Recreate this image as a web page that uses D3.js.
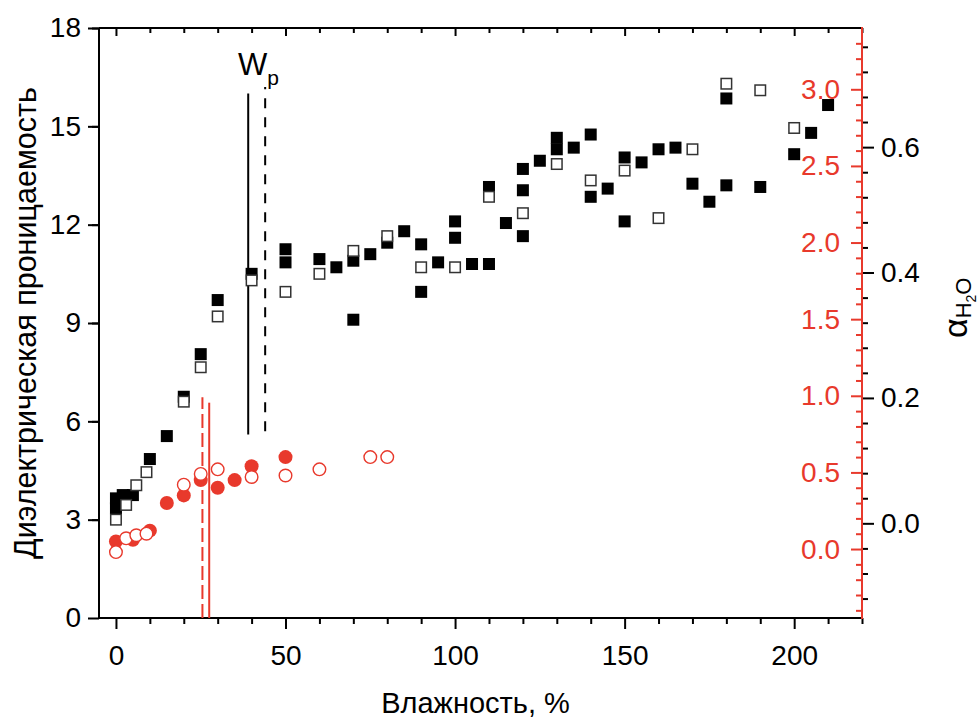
<!DOCTYPE html>
<html><head><meta charset="utf-8">
<script src="https://cdn.jsdelivr.net/npm/d3@7"></script>
<style>
body{margin:0;background:#fff;}
svg{font-family:"Liberation Sans",Arial,Helvetica,sans-serif;}
</style></head><body>
<svg id="c" width="978" height="720"></svg>
<script>
// ---- data (x: moisture %, y: permittivity on left axis) ----
const permFilled = [[0,3.65],[0,3.35],[2,3.75],[5,3.75],[10,4.85],[15,5.55],[20,6.75],[25,8.05],[30,9.7],[40,10.5],[50,11.25],[50,10.85],[60,10.95],[65,10.7],[70,10.9],[70,9.1],[75,11.1],[80,11.45],[85,11.8],[90,11.4],[90,9.95],[95,10.85],[100,12.1],[100,11.6],[105,10.8],[110,10.8],[110,13.15],[115,12.05],[120,13.7],[120,13.05],[120,11.65],[125,13.95],[130,14.65],[130,14.3],[135,14.35],[140,14.75],[140,12.85],[145,13.1],[150,14.05],[150,12.1],[155,13.9],[160,14.3],[165,14.35],[170,13.25],[175,12.7],[180,13.2],[180,15.85],[190,13.15],[200,14.15],[205,14.8],[210,15.65]];
const permOpen = [[0,3.0],[3,3.45],[6,4.05],[9,4.45],[20,6.6],[25,7.65],[30,9.2],[40,10.3],[50,9.95],[60,10.5],[70,11.2],[80,11.65],[90,10.7],[100,10.7],[110,12.85],[120,12.35],[130,13.85],[140,13.35],[150,13.65],[160,12.2],[170,14.3],[180,16.3],[190,16.1],[200,14.95]];
// red circles: values on the red axis
const redFilled = [[0,0.05],[5,0.06],[10,0.12],[15,0.3],[20,0.35],[25,0.45],[30,0.40],[35,0.45],[40,0.54],[50,0.60]];
const redOpen = [[0,-0.02],[3,0.07],[6,0.09],[9,0.10],[20,0.42],[25,0.49],[30,0.52],[40,0.47],[50,0.48],[60,0.52],[75,0.60],[80,0.60]];
// vertical marker lines
const wpLines = [[39,5.6,16.0,false],[44,5.7,16.2,true]];      // x, yBottom, yTop (left axis), dashed
const redLines = [[25.5,0.99,true],[27.5,0.955,false]];          // x, top (red axis), dashed
// axes
const xTicks = [0,50,100,150,200];
const leftTicks = [0,3,6,9,12,15,18];
const redTicks = ["0.0","0.5","1.0","1.5","2.0","2.5","3.0"];
const alphaTicks = ["0.0","0.2","0.4","0.6"];

const RED = "#e8392c";
const svg = d3.select("#c");
const L=99, R=862, T=28, B=618;
const x = d3.scaleLinear().domain([-5,220]).range([L,R]);
const yL = d3.scaleLinear().domain([0,18]).range([B,T]);
const yR = d3.scaleLinear().domain([-0.45,3.4]).range([B,T]);
const yA = d3.scaleLinear().domain([-0.151,0.79]).range([B,T]);
const FS = 28;

function style(g,color,fs){
  g.select(".domain").remove();
  g.selectAll("line").attr("stroke",color).attr("stroke-width",2);
  g.selectAll("text").attr("fill",color).style("font-size",fs+"px").style("font-family","'Liberation Sans',Arial,sans-serif");
}
const rng=(a,b,s)=>d3.range(Math.round(a/s),Math.round(b/s)+1).map(i=>+(i*s).toFixed(4));

// bottom axis
let g=svg.append("g").attr("transform",`translate(0,${B})`)
 .call(d3.axisBottom(x).tickValues(rng(0,220,10).filter(v=>v%50!==0)).tickSize(6).tickFormat(""));
style(g,"#000",FS);
g=svg.append("g").attr("transform",`translate(0,${B})`)
 .call(d3.axisBottom(x).tickValues(xTicks).tickSize(11).tickPadding(16).tickFormat(d3.format("d")));
style(g,"#000",FS);
// top axis (inward)
g=svg.append("g").attr("transform",`translate(0,${T})`)
 .call(d3.axisBottom(x).tickValues(rng(0,220,10).filter(v=>v%50!==0)).tickSize(5).tickFormat(""));
style(g,"#000",FS);
g=svg.append("g").attr("transform",`translate(0,${T})`)
 .call(d3.axisBottom(x).tickValues(xTicks).tickSize(8).tickFormat(""));
style(g,"#000",FS);
// left axis
g=svg.append("g").attr("transform",`translate(${L},0)`)
 .call(d3.axisLeft(yL).tickValues(rng(1.5,16.5,3)).tickSize(7).tickFormat(""));
style(g,"#000",FS);
g=svg.append("g").attr("transform",`translate(${L},0)`)
 .call(d3.axisLeft(yL).tickValues(leftTicks).tickSize(11).tickPadding(7).tickFormat(d3.format("d")));
style(g,"#000",FS);
// red axis (inward ticks, labels inside)
g=svg.append("g").attr("transform",`translate(${R},0)`)
 .call(d3.axisLeft(yR).tickValues(rng(-0.4,3.3,0.1).filter(v=>Math.abs(v*2-Math.round(v*2))>1e-6)).tickSize(6).tickFormat(""));
style(g,RED,FS);
g=svg.append("g").attr("transform",`translate(${R},0)`)
 .call(d3.axisLeft(yR).tickValues(redTicks.map(Number)).tickSize(11).tickPadding(11).tickFormat(d3.format(".1f")));
style(g,RED,FS);
// alpha axis (outward)
g=svg.append("g").attr("transform",`translate(${R},0)`)
 .call(d3.axisRight(yA).tickValues(rng(-0.12,0.76,0.04).filter(v=>Math.abs(v*5-Math.round(v*5))>1e-6)).tickSize(6).tickFormat(""));
style(g,"#000",FS);
g=svg.append("g").attr("transform",`translate(${R},0)`)
 .call(d3.axisRight(yA).tickValues(alphaTicks.map(Number)).tickSize(12).tickPadding(7).tickFormat(d3.format(".1f")));
style(g,"#000",FS);

// frame
svg.append("line").attr("x1",L).attr("x2",R).attr("y1",T).attr("y2",T).attr("stroke","#000").attr("stroke-width",2);
svg.append("line").attr("x1",L).attr("x2",R).attr("y1",B).attr("y2",B).attr("stroke","#000").attr("stroke-width",2);
svg.append("line").attr("x1",L).attr("x2",L).attr("y1",T).attr("y2",B).attr("stroke","#000").attr("stroke-width",2);
svg.append("line").attr("x1",R).attr("x2",R).attr("y1",T-1).attr("y2",B+1).attr("stroke",RED).attr("stroke-width",2);

// vertical lines
svg.selectAll(".wp").data(wpLines).join("line")
 .attr("x1",d=>x(d[0])).attr("x2",d=>x(d[0])).attr("y1",d=>yL(d[1])).attr("y2",d=>yL(d[2]))
 .attr("stroke","#000").attr("stroke-width",2).attr("stroke-dasharray",d=>d[3]?"10,9":null);
svg.selectAll(".rl").data(redLines).join("line")
 .attr("x1",d=>x(d[0])).attr("x2",d=>x(d[0])).attr("y1",B).attr("y2",d=>yR(d[1]))
 .attr("stroke",RED).attr("stroke-width",2).attr("stroke-dasharray",d=>d[2]?"14,5":null);

// markers
const S=12;
svg.append("g").selectAll("rect").data(permFilled).join("rect")
 .attr("x",d=>x(d[0])-S/2).attr("y",d=>yL(d[1])-S/2).attr("width",S).attr("height",S).attr("fill","#000");
svg.append("g").selectAll("rect").data(permOpen).join("rect")
 .attr("x",d=>x(d[0])-S/2+0.75).attr("y",d=>yL(d[1])-S/2+0.75).attr("width",S-1.5).attr("height",S-1.5)
 .attr("fill","#fff").attr("stroke","#333").attr("stroke-width",1.5);
svg.append("g").selectAll("circle").data(redFilled).join("circle")
 .attr("cx",d=>x(d[0])).attr("cy",d=>yR(d[1])).attr("r",7).attr("fill",RED);
svg.append("g").selectAll("circle").data(redOpen).join("circle")
 .attr("cx",d=>x(d[0])).attr("cy",d=>yR(d[1])).attr("r",6.3).attr("fill","#fff").attr("stroke",RED).attr("stroke-width",1.4);

// labels
const wp = svg.append("text").attr("x",238).attr("y",75).attr("fill","#000").style("font-size","31px");
wp.append("tspan").text("W");
wp.append("tspan").attr("dy",10).style("font-size","21px").text("p");

svg.append("text").attr("x",(L+R)/2-5).attr("y",713).attr("text-anchor","middle")
 .style("font-size","29px").attr("fill","#000").text("Влажность, %");
svg.append("text").attr("transform",`translate(36,${(T+B)/2}) rotate(-90)`).attr("text-anchor","middle")
 .style("font-size","30.5px").attr("fill","#000").text("Диэлектрическая проницаемость");
const al = svg.append("text").attr("transform","translate(967,338) rotate(-90)").attr("fill","#000").style("font-size","34px");
al.append("tspan").text("α");
al.append("tspan").attr("dy",4).style("font-size","22px").text("H");
al.append("tspan").attr("dy",5).style("font-size","14px").text("2");
al.append("tspan").attr("dy",-5).style("font-size","22px").text("O");
</script>
</body></html>
